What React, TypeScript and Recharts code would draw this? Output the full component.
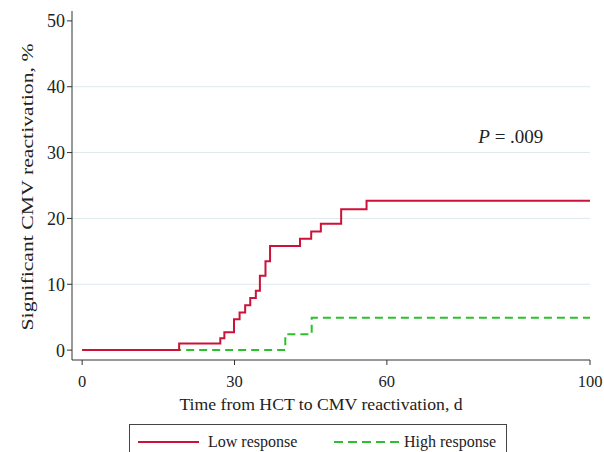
import React from 'react';
import { LineChart, Line, XAxis, YAxis, CartesianGrid, Legend, ReferenceDot } from 'recharts';

const lowTimes = [0, 19.1, 27.2, 28.0, 29.9, 31.0, 32.1, 33.1, 34.2, 35.0, 36.1, 37.0, 42.9, 45.1, 47.0, 51.0, 56.0, 100];
const lowValues = [0, 1.0, 1.8, 2.7, 4.7, 5.7, 6.8, 7.9, 9.0, 11.3, 13.5, 15.8, 16.9, 18.0, 19.2, 21.4, 22.7, 22.7];
const highTimes = [0, 40.0, 45.2, 100];
const highValues = [0, 2.4, 4.9, 4.9];
const xTicks = [0, 30, 60, 100];
const yTicks = [0, 10, 20, 30, 40, 50];
const gridValues = [10, 20, 30, 40];
const seriesNames = ['Low response', 'High response'];
const pValueText = '.009';
const pAnchor = { t: 78, v: 31.5 };

const lowData = lowTimes.map((t, i) => ({ t, v: lowValues[i] }));
const highData = highTimes.map((t, i) => ({ t, v: highValues[i] }));

const FONT = "'Liberation Serif', 'Times New Roman', serif";
const RED = '#cc1238';
const GREEN = '#2cc12c';
const AXIS = '#333';

const XLabel = (props: any) => {
  const vb = props.viewBox || { x: 72, width: 518 };
  const cx = vb.x + vb.width / 2 - 10;
  return (
    <text x={cx} y={410} textAnchor="middle" fontFamily={FONT} fontSize={17.7} fill="#222">
      Time from HCT to CMV reactivation, d
    </text>
  );
};

const YLabel = () => {
  const cx = 27;
  const cy = 187;
  return (
    <text
      x={cx}
      y={cy}
      transform={`rotate(-90 ${cx} ${cy})`}
      textAnchor="middle"
      dominantBaseline="central"
      fontFamily={FONT}
      fontSize={17}
      fill="#222"
      textLength={287}
      lengthAdjust="spacingAndGlyphs"
    >
      Significant CMV reactivation, %
    </text>
  );
};

const PLabel = (props: any) => {
  const vb = props.viewBox || { x: 478, y: 143 };
  return (
    <text x={vb.x} y={vb.y} fontFamily={FONT} fontSize={19} fill="#222">
      <tspan fontStyle="italic">P</tspan>
      <tspan> = {pValueText}</tspan>
    </text>
  );
};

const LegendBox = () => (
  <div
    style={{
      width: 378,
      height: 40,
      border: '1px solid #444',
      boxSizing: 'border-box',
      background: '#fff',
    }}
  >
    <svg width={376} height={38} style={{ display: 'block' }}>
      <line x1={8} x2={69} y1={17} y2={17} stroke={RED} strokeWidth={2} />
      <text x={78} y={22} fontFamily={FONT} fontSize={16} fill="#222">{seriesNames[0]}</text>
      <line x1={204} x2={269} y1={17} y2={17} stroke={GREEN} strokeWidth={2} strokeDasharray="9 5" />
      <text x={274} y={22} fontFamily={FONT} fontSize={16} fill="#222">{seriesNames[1]}</text>
    </svg>
  </div>
);

export default function App() {
  return (
    <div style={{ position: 'absolute', left: 0, top: 0, width: 604, height: 452, background: '#fff', overflow: 'hidden' }}>
      <LineChart width={604} height={452} margin={{ top: 11, right: 14, bottom: 0, left: 0 }}>
        <CartesianGrid horizontal vertical={false} horizontalValues={gridValues} stroke="#dde9ec" strokeWidth={1} />
        <XAxis
          type="number"
          dataKey="t"
          domain={[-2, 100]}
          ticks={xTicks}
          allowDataOverflow
          height={92}
          tickSize={5}
          tickMargin={10}
          axisLine={{ stroke: AXIS }}
          tickLine={{ stroke: AXIS }}
          tick={{ fontFamily: FONT, fontSize: 16.5, fill: '#222' }}
          label={<XLabel />}
        />
        <YAxis
          type="number"
          domain={[-1.5, 51.5]}
          ticks={yTicks}
          allowDataOverflow
          width={72}
          tickSize={5}
          tickMargin={2}
          axisLine={{ stroke: AXIS }}
          tickLine={{ stroke: AXIS }}
          tick={{ fontFamily: FONT, fontSize: 18, fill: '#222' }}
          label={<YLabel />}
        />
        <Line
          data={highData}
          dataKey="v"
          name={seriesNames[1]}
          type="stepAfter"
          stroke={GREEN}
          strokeWidth={2}
          strokeDasharray="8 5"
          dot={false}
          activeDot={false}
          isAnimationActive={false}
        />
        <Line
          data={lowData}
          dataKey="v"
          name={seriesNames[0]}
          type="stepAfter"
          stroke={RED}
          strokeWidth={2}
          dot={false}
          activeDot={false}
          isAnimationActive={false}
        />
        <ReferenceDot x={pAnchor.t} y={pAnchor.v} r={0} fill="none" stroke="none" label={<PLabel />} />
        <Legend
          layout="horizontal"
          verticalAlign="middle"
          align="center"
          wrapperStyle={{ position: 'absolute', top: 424, left: 129, width: 378, height: 40 }}
          content={<LegendBox />}
        />
      </LineChart>
    </div>
  );
}
